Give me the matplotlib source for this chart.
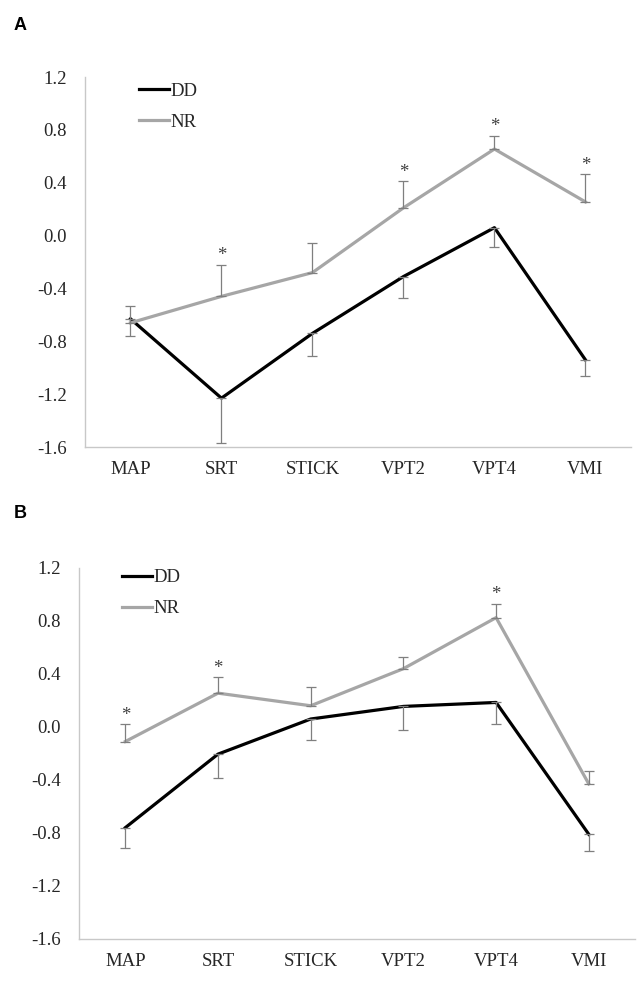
import matplotlib
matplotlib.use("Agg")
import matplotlib.pyplot as plt
import numpy as np

plt.rcParams['axes.unicode_minus'] = False

categories = ['MAP', 'SRT', 'STICK', 'VPT2', 'VPT4', 'VMI']
yticks = [-1.6, -1.2, -0.8, -0.4, 0.0, 0.4, 0.8, 1.2]

A_dd = [-0.63, -1.23, -0.74, -0.31, 0.06, -0.94]
A_dd_err = [0.13, 0.34, 0.17, 0.16, 0.15, 0.12]
A_nr = [-0.66, -0.46, -0.28, 0.21, 0.655, 0.255]
A_nr_err = [0.13, 0.24, 0.225, 0.20, 0.10, 0.21]
A_sig = [False, True, False, True, True, True]

B_dd = [-0.76, -0.205, 0.06, 0.155, 0.185, -0.81]
B_dd_err = [0.155, 0.18, 0.155, 0.18, 0.165, 0.125]
B_nr = [-0.11, 0.255, 0.16, 0.44, 0.825, -0.43]
B_nr_err = [0.13, 0.12, 0.145, 0.087, 0.105, 0.095]
B_sig = [True, True, False, False, True, False]

SERIF = 'Liberation Serif'
FS = 13.5
DD_COLOR = '#000000'
NR_COLOR = '#a6a6a6'
ERR_COLOR = '#7f7f7f'
SPINE_COLOR = '#c8c8c8'

fig = plt.figure(figsize=(6.4, 9.91), dpi=100)


def draw_panel(rect, dd, dd_err, nr, nr_err, sig, legend_anchor):
    ax = fig.add_axes(rect)
    x = np.arange(len(categories))
    zeros = np.zeros(len(categories))
    ax.plot(x, dd, color=DD_COLOR, lw=2.3, label='DD', zorder=3)
    ax.plot(x, nr, color=NR_COLOR, lw=2.3, label='NR', zorder=3)
    ax.errorbar(x, dd, yerr=[dd_err, zeros], fmt='none', ecolor=ERR_COLOR,
                elinewidth=0.9, capsize=3.5, capthick=0.9, zorder=4)
    ax.errorbar(x, nr, yerr=[zeros, nr_err], fmt='none', ecolor=ERR_COLOR,
                elinewidth=0.9, capsize=3.5, capthick=0.9, zorder=4)
    for xi, v, e, s in zip(x, nr, nr_err, sig):
        if s:
            ax.text(xi, v + e + 0.035, '*', ha='center', va='baseline',
                    fontsize=FS, family=SERIF, color='#404040')
    ax.set_xlim(-0.5, len(categories) - 0.5)
    ax.set_ylim(-1.6, 1.2)
    ax.set_yticks(yticks)
    ax.set_yticklabels([f'{t:.1f}' for t in yticks], family=SERIF, fontsize=FS)
    ax.set_xticks(x)
    ax.set_xticklabels(categories, family=SERIF, fontsize=FS)
    ax.tick_params(axis='y', length=0, pad=13, colors='#262626')
    ax.tick_params(axis='x', length=0, pad=10, colors='#262626')
    for sp in ['top', 'right']:
        ax.spines[sp].set_visible(False)
    for sp in ['left', 'bottom']:
        ax.spines[sp].set_color(SPINE_COLOR)
        ax.spines[sp].set_linewidth(1.0)
    leg = ax.legend(loc='upper left', bbox_to_anchor=legend_anchor,
                    frameon=False, prop={'family': SERIF, 'size': FS},
                    handlelength=1.6, handletextpad=0.1, labelspacing=0.75,
                    borderpad=0, borderaxespad=0)
    for t in leg.get_texts():
        t.set_color('#262626')
    return ax


draw_panel([0.1328, 0.5489, 0.853, 0.3734], A_dd, A_dd_err, A_nr, A_nr_err,
           A_sig, (0.099, 0.985))
draw_panel([0.1234, 0.0525, 0.869, 0.3744], B_dd, B_dd_err, B_nr, B_nr_err,
           B_sig, (0.077, 0.997))

fig.text(20 / 640, 1 - 26 / 991, 'A', ha='center', va='center',
         family='Liberation Sans', fontweight='bold', fontsize=13)
fig.text(20 / 640, 1 - 513 / 991, 'B', ha='center', va='center',
         family='Liberation Sans', fontweight='bold', fontsize=13)

fig.savefig('out.png', dpi=100)
